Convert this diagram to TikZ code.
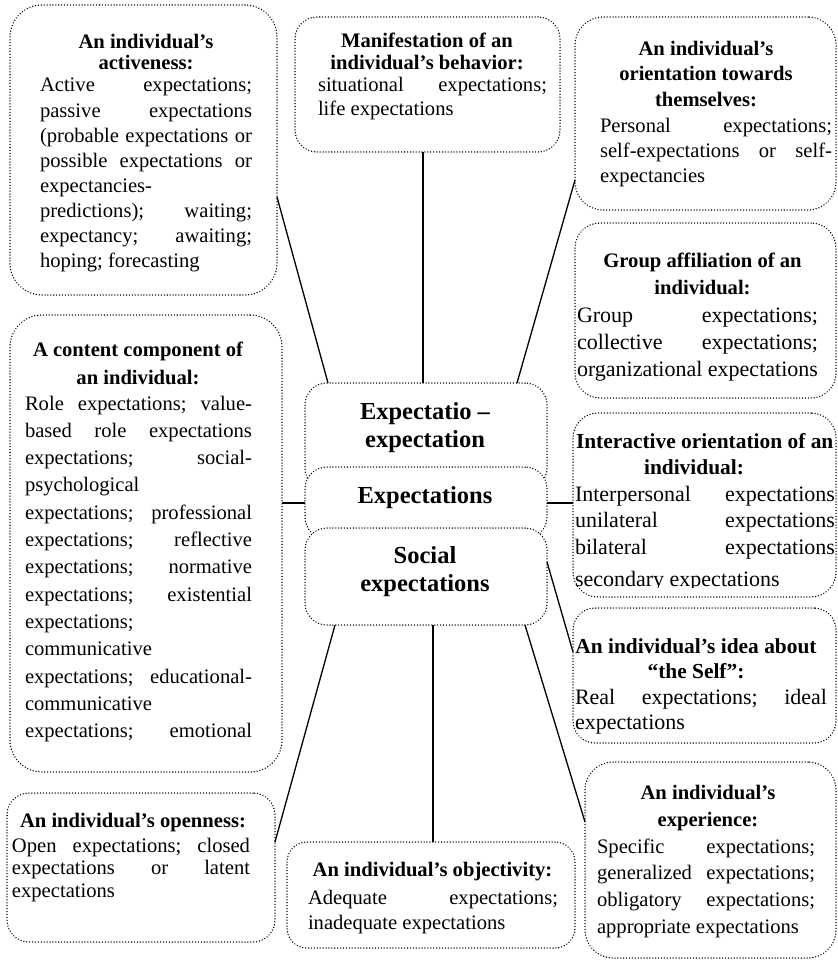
\documentclass[tikz,border=0pt]{standalone}
\usepackage{fontspec}
\setmainfont{Liberation Serif}
\newcommand\Lj[1]{\hbox to\hsize{#1}}
\newcommand\Ll[1]{\hbox to\hsize{#1\hfil}}
\newcommand\Lc[1]{\hbox to\hsize{\hfil#1\hfil}}
\newcommand\TB[3]{\vtop{\hsize=#1\relax\baselineskip=#2\relax\lineskiplimit=-40pt\relax\lineskip=0pt\relax\frenchspacing #3}}
\tikzset{
  bx/.style={draw, line width=1.5pt, dash pattern=on 0.01pt off 2.9pt, line cap=round,
    fill=white, inner sep=0pt, outer sep=0pt, rounded corners=#1},
  bx/.default=25pt,
  cn/.style={line width=1.3pt},
  tx/.style={inner sep=0pt, outer sep=0pt, font=\fontsize{20.6}{25}\selectfont},
  txb/.style={inner sep=0pt, outer sep=0pt, font=\fontsize{22}{26}\selectfont},
  ttl/.style={inner sep=0pt, outer sep=0pt, font=\fontsize{20.6}{25}\selectfont\bfseries},
  ttlb/.style={inner sep=0pt, outer sep=0pt, font=\fontsize{21.4}{26}\selectfont\bfseries},
  ctr/.style={inner sep=0pt, outer sep=0pt, font=\fontsize{24.5}{28}\selectfont\bfseries},
}
\begin{document}
\begin{tikzpicture}[x=1pt,y=-1pt]
\useasboundingbox (0,0) rectangle (837,960);
% boxes
\node[bx=32pt, minimum width=267pt, minimum height=290pt] (A) at (143.5,150) {};
\node[bx=22pt, minimum width=265pt, minimum height=135pt] (B) at (427.5,84.5) {};
\node[bx=28pt, minimum width=261pt, minimum height=193pt] (C) at (705.5,113.5) {};
\node[bx=25pt, minimum width=261pt, minimum height=175pt] (D) at (705.5,310.5) {};
\node[bx=32pt, minimum width=272pt, minimum height=457pt] (K) at (146,543.5) {};
\node[bx=22pt, minimum width=242pt, minimum height=107pt] (E1) at (426,436.5) {};
\node[bx=22pt, minimum width=242pt, minimum height=72pt] (E2) at (426,503) {};
\node[bx=22pt, minimum width=242pt, minimum height=97pt] (E3) at (426,576.5) {};
\node[bx=25pt, minimum width=263pt, minimum height=184pt] (F) at (704.5,505) {};
\node[bx=22pt, minimum width=263pt, minimum height=135pt] (G) at (704.5,675.5) {};
\node[bx=28pt, minimum width=251pt, minimum height=196pt] (H) at (710.5,860) {};
\node[bx=22pt, minimum width=268pt, minimum height=149pt] (I) at (141,867.5) {};
\node[bx=20pt, minimum width=288pt, minimum height=106pt] (J) at (431,895) {};
% connectors
\draw[cn] ([yshift=-47pt]A.east) -- ([xshift=-98pt]E1.north);
\draw[cn] ([xshift=-4.5pt]B.south) -- ([xshift=-4.5pt]B.south |- E1.north);
\draw[cn] ([yshift=-66.5pt]C.west) -- ([xshift=91pt]E1.north);
\draw[cn] (K.east |- E2.west) -- (E2.west);
\draw[cn] (E2.east) -- (E2.east -| F.west);
\draw[cn] ([yshift=14.5pt]E3.east) -- ([yshift=23.5pt]G.west);
\draw[cn] ([xshift=-91pt]E3.south) -- ([yshift=25.5pt]I.east);
\draw[cn] ([xshift=7pt]E3.south) -- ([xshift=7pt]E3.south |- J.north);
\draw[cn] ([xshift=99pt]E3.south) -- ([yshift=38pt]H.west);
% A
\node[ttl, anchor=base] (hA) at (146,49) {\TB{260pt}{21pt}{\Lc{An individual’s}\Lc{activeness:}}};
\node[tx, anchor=base west] (tA) at (40,92) {\TB{212pt}{25.1pt}{%
\Lj{Active expectations;}
\Lj{passive expectations}
\Lj{(probable expectations or}
\Lj{possible expectations or}
\Ll{expectancies-}
\Lj{predictions); waiting;}
\Lj{expectancy; awaiting;}
\Ll{hoping; forecasting}}};
% B
\node[ttl, anchor=base] (hB) at (427,48) {\TB{260pt}{21.6pt}{\Lc{Manifestation of an}\Lc{individual’s behavior:}}};
\node[tx, anchor=base west] (tB) at (318,92) {\TB{229pt}{24pt}{%
\Lj{situational expectations;}
\Ll{life expectations}}};
% C
\node[ttl, anchor=base] (hC) at (706,55.3) {\TB{260pt}{25.4pt}{\Lc{An individual’s}\Lc{orientation towards}\Lc{themselves:}}};
\node[tx, anchor=base west] (tC) at (600,132.7) {\TB{232pt}{25pt}{%
\Lj{Personal expectations;}
\Lj{self-expectations or self-}
\Ll{expectancies}}};
% D
\node[ttl, anchor=base] (hD) at (702.5,267.7) {\TB{260pt}{26.7pt}{\Lc{Group affiliation of an}\Lc{individual:}}};
\node[txb, anchor=base west] (tD) at (577,322) {\TB{241pt}{27pt}{%
\Lj{Group expectations;}
\Lj{collective expectations;}
\Ll{organizational expectations}}};
% K
\node[ttl, anchor=base] (hK) at (138,356) {\TB{260pt}{28.3pt}{\Lc{A content component of}\Lc{an individual:}}};
\node[tx, anchor=base west] (tK) at (25,410) {\TB{227pt}{27.3pt}{%
\Lj{Role expectations; value-}
\Lj{based role expectations}
\Lj{expectations; social-}
\Ll{psychological}
\Lj{expectations; professional}
\Lj{expectations; reflective}
\Lj{expectations; normative}
\Lj{expectations; existential}
\Ll{expectations;}
\Ll{communicative}
\Lj{expectations; educational-}
\Ll{communicative}
\Lj{expectations; emotional}}};
% centre
\node[ctr, anchor=base] (tE1) at (425,419.3) {\TB{240pt}{28pt}{\Lc{Expectatio –}\Lc{expectation}}};
\node[ctr, anchor=base] (tE2) at (425,503.3) {Expectations};
\node[ctr, anchor=base] (tE3) at (425,563.3) {\TB{240pt}{28.4pt}{\Lc{Social}\Lc{expectations}}};
% F
\node[ttlb, anchor=base west] (hF1) at (576,448) {Interactive orientation of an};
\node[ttlb, anchor=base] (hF2) at (694,474) {individual:};
\begin{scope}
\clip (570,400) rectangle (845,587);
\node[txb, anchor=base west] (tF) at (575,501) {\TB{260pt}{26.7pt}{%
\Lj{Interpersonal expectations}
\Lj{unilateral expectations}
\Lj{bilateral expectations}
\vskip4.9pt
\Ll{secondary expectations}}};
\end{scope}
% G
\node[ttl, anchor=base, font=\fontsize{21.4}{25}\selectfont\bfseries] (hG) at (696,653) {\TB{260pt}{25pt}{\Lc{An individual’s idea about}\Lc{“the Self”:}}};
\node[txb, anchor=base west] (tG) at (575,704) {\TB{252pt}{25pt}{%
\Lj{Real expectations; ideal}
\Ll{expectations}}};
% H
\node[ttl, anchor=base] (hH) at (708,799) {\TB{260pt}{27pt}{\Lc{An individual’s}\Lc{experience:}}};
\node[tx, anchor=base west] (tH) at (597,853) {\TB{218pt}{26.7pt}{%
\Lj{Specific expectations;}
\Lj{generalized expectations;}
\Lj{obligatory expectations;}
\Ll{appropriate expectations}}};
% I
\node[ttl, anchor=base] (hI) at (133,827.7) {An individual’s openness:};
\node[tx, anchor=base west] (tI) at (12,852) {\TB{238pt}{22.8pt}{%
\Lj{Open expectations; closed}
\Lj{expectations or latent}
\Ll{expectations}}};
% J
\node[ttl, anchor=base] (hJ) at (432.5,876) {An individual’s objectivity:};
\node[tx, anchor=base west] (tJ) at (308,904) {\TB{250pt}{25pt}{%
\Lj{Adequate expectations;}
\Ll{inadequate expectations}}};
\end{tikzpicture}
\end{document}
